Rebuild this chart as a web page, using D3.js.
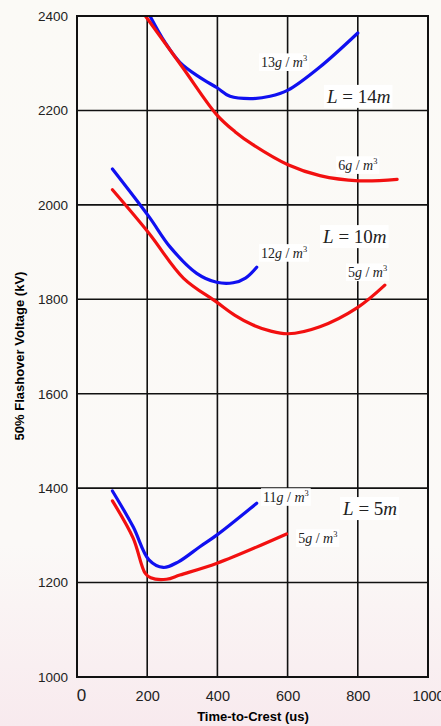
<!DOCTYPE html>
<html>
<head>
<meta charset="utf-8">
<script src="https://cdn.jsdelivr.net/npm/d3@7"></script>
<style>
  body { margin: 0; background: #fff; }
  #plot text { font-family: "Liberation Sans", Arial, sans-serif; }
</style>
</head>
<body>
<div id="plot"></div>
<script>
// x ticks and y ticks as printed
const xTicks = [0, 200, 400, 600, 800, 1000];
const yTicks = [1000, 1200, 1400, 1600, 1800, 2000, 2200, 2400];

// time-to-crest (us) / flashover voltage (kV)
const blue14x = [208, 250, 293, 350, 399, 436, 493, 550, 601, 692, 800];
const blue14y = [2400, 2345, 2302, 2270, 2248, 2230, 2225, 2230, 2243, 2292, 2364];
const red14x = [195, 300, 399, 450, 500, 601, 692, 803, 912];
const red14y = [2400, 2292, 2190, 2155, 2128, 2085, 2062, 2051, 2054];

const blue10x = [101, 205, 265, 341, 398, 445, 480, 512];
const blue10y = [2076, 1975, 1911, 1855, 1836, 1835, 1845, 1868];
const red10x = [101, 205, 303, 398, 450, 500, 550, 601, 692, 800, 877];
const red10y = [2032, 1940, 1845, 1794, 1766, 1746, 1733, 1727, 1742, 1783, 1830];

const blue5x = [101, 160, 205, 246, 289, 350, 399, 512];
const blue5y = [1394, 1318, 1248, 1232, 1244, 1276, 1301, 1368];
const red5x = [101, 160, 194, 210, 255, 293, 399, 597];
const red5y = [1373, 1294, 1220, 1210, 1207, 1216, 1241, 1303];

// humidity labels: [value, x, y] (left edge / baseline, data units)
const humidLabels = [
  ["13", 524, 2292],
  ["6", 744, 2074],
  ["12", 524, 1888],
  ["5", 772, 1847],
  ["11", 530, 1371],
  ["5", 630, 1284]
];
// gap length labels
const lengthLabels = [
  ["14", 712, 2216],
  ["10", 701, 1919],
  ["5", 758, 1343]
];

const W = 441, H = 726;
const margin = {top: 16, right: 13, bottom: 49, left: 77};
const width = W - margin.left - margin.right;
const height = H - margin.top - margin.bottom;

const svg = d3.select("#plot")
    .append("svg")
    .attr("width", W)
    .attr("height", H);

// faint pink wash at the bottom of the page
const grad = svg.append("defs").append("linearGradient")
    .attr("id", "bg").attr("x1", 0).attr("y1", 0).attr("x2", 0).attr("y2", 1);
grad.append("stop").attr("offset", "0%").attr("stop-color", "#fbfaf6");
grad.append("stop").attr("offset", "75%").attr("stop-color", "#fbf9f7");
grad.append("stop").attr("offset", "100%").attr("stop-color", "#f8eaee");
svg.append("rect").attr("width", W).attr("height", H).attr("fill", "url(#bg)");

const g = svg.append("g")
    .attr("transform", "translate(" + margin.left + "," + margin.top + ")");

const x = d3.scaleLinear().domain([0, 1000]).range([0, width]);
const y = d3.scaleLinear().domain([1000, 2400]).range([height, 0]);

// grid
g.selectAll(".vg").data(xTicks).enter().append("line")
    .attr("x1", d => x(d)).attr("x2", d => x(d))
    .attr("y1", 0).attr("y2", height)
    .attr("stroke", "#111").attr("stroke-width", 1.6);
g.selectAll(".hg").data(yTicks).enter().append("line")
    .attr("y1", d => y(d)).attr("y2", d => y(d))
    .attr("x1", 0).attr("x2", width)
    .attr("stroke", "#111").attr("stroke-width", 1.6);

// axes text only
const yAxis = g.append("g")
    .call(d3.axisLeft(y).tickValues(yTicks).tickFormat(d3.format("d")).tickSize(0).tickPadding(9));
yAxis.select(".domain").remove();
yAxis.selectAll("text").style("font-size", "13.5px").attr("fill", "#222");

const xAxis = g.append("g")
    .attr("transform", "translate(0," + height + ")")
    .call(d3.axisBottom(x).tickValues(xTicks).tickFormat(d3.format("d")).tickSize(0).tickPadding(14));
xAxis.select(".domain").remove();
xAxis.selectAll("text").style("font-size", "14.5px").attr("fill", "#222");
xAxis.selectAll("text").filter(d => d === 0)
    .style("font-size", "17px").attr("dx", 4).attr("dy", "0.6em");

svg.append("text")
    .attr("x", 253).attr("y", 721)
    .attr("text-anchor", "middle")
    .style("font-size", "13px").style("font-weight", "bold")
    .text("Time-to-Crest (us)");

svg.append("text")
    .attr("transform", "translate(24,356) rotate(-90)")
    .attr("text-anchor", "middle")
    .style("font-size", "13px").style("font-weight", "bold")
    .text("50% Flashover Voltage (kV)");

// curves
const line = d3.line()
    .x(d => x(d[0]))
    .y(d => y(d[1]))
    .curve(d3.curveCatmullRom.alpha(0.5));

const series = [
  [blue14x, blue14y, "#1010f0"], [red14x, red14y, "#f21010"],
  [blue10x, blue10y, "#1010f0"], [red10x, red10y, "#f21010"],
  [blue5x, blue5y, "#1010f0"], [red5x, red5y, "#f21010"]
];
g.append("clipPath").attr("id", "clip")
    .append("rect").attr("width", width).attr("height", height);
g.selectAll(".curve").data(series).enter().append("path")
    .attr("clip-path", "url(#clip)")
    .attr("d", s => line(s[0].map((v, i) => [v, s[1][i]])))
    .attr("fill", "none")
    .attr("stroke", s => s[2])
    .attr("stroke-width", 3.2)
    .attr("stroke-linecap", "round");

// labels with white boxes that break the grid
function serifLabel(px, py, size, parts) {
  const t = g.append("text")
      .attr("x", px).attr("y", py)
      .style("font-family", "'Liberation Serif', 'Times New Roman', serif")
      .style("font-size", size + "px")
      .attr("fill", "#222");
  parts.forEach(p => {
    const ts = t.append("tspan").text(p[0]);
    if (p[1]) ts.style("font-style", "italic");
    if (p[2]) ts.style("font-size", (size * 0.6) + "px").attr("dy", -size * 0.4);
  });
  const b = t.node().getBBox();
  g.insert("rect", () => t.node())
      .attr("x", b.x - 2).attr("y", b.y - 1)
      .attr("width", b.width + 4).attr("height", b.height + 2)
      .attr("fill", "#fff");
  return t;
}

humidLabels.forEach(d => {
  serifLabel(x(d[1]), y(d[2]), 14,
      [[d[0], false], ["g", true], [" / ", false], ["m", true], ["3", false, true]]);
});
lengthLabels.forEach(d => {
  serifLabel(x(d[1]), y(d[2]), 19,
      [["L", true], [" = ", false], [d[0], false], ["m", true]]);
});

// frame
g.append("rect")
    .attr("width", width).attr("height", height)
    .attr("fill", "none").attr("stroke", "#111").attr("stroke-width", 2);
</script>
</body>
</html>
